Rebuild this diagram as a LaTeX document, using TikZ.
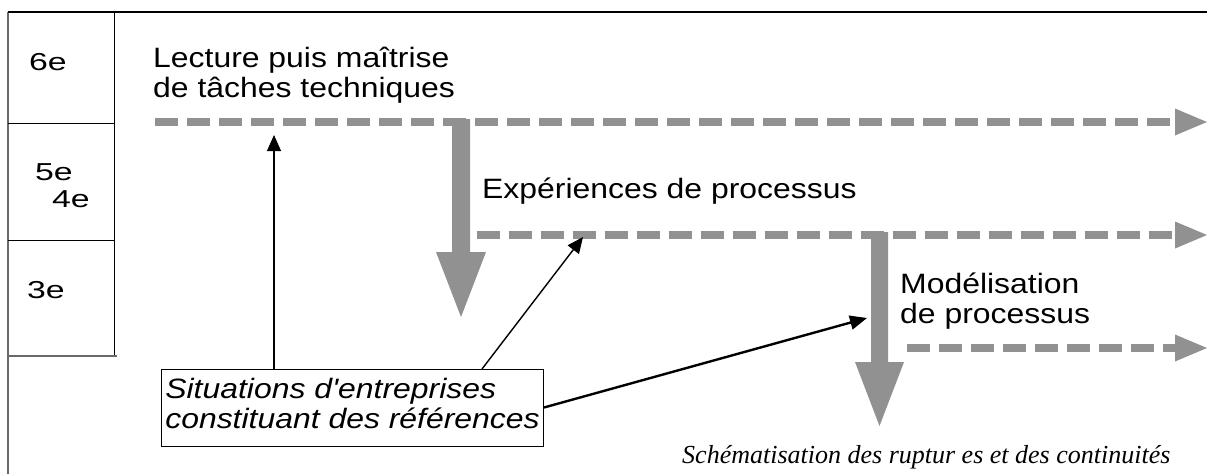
\documentclass[tikz,border=0pt]{standalone}
\usepackage{fontspec}
\setmainfont{Liberation Sans}[Ligatures=TeXOff]
\newfontfamily\serifcap{Liberation Serif}
\usetikzlibrary{arrows.meta}
\definecolor{flowgray}{RGB}{145,145,145}
\definecolor{framegray}{RGB}{105,105,105}
\newcommand\wtxt[1]{\scalebox{1.14}[1]{\begin{tabular}[t]{@{}l@{}}#1\end{tabular}}}
\newcommand\ltxt[1]{\scalebox{1.38}[1]{#1}}
\tikzset{
  maintext/.style={anchor=base west, inner sep=0pt, font=\fontsize{28}{30}\selectfont},
  lbl/.style={anchor=base west, inner sep=0pt, font=\fontsize{24.5}{28}\selectfont},
  flow/.style={fill=flowgray, draw=none},
  dashflow/.style={draw=flowgray, line width=8pt, dash pattern=on 23pt off 9pt},
  thinarrow/.style={draw=black, line width=1.1pt, -{Triangle[length=16pt,width=14pt]}},
  boldarrow/.style={draw=black, line width=2.4pt, -{Triangle[length=17pt,width=14pt]}},
  sitbox/.style={draw=black, line width=1pt, inner sep=0pt, minimum width=382pt, minimum height=77pt,
    font=\fontsize{28}{30}\selectfont\itshape},
}
\begin{document}
\begin{tikzpicture}[x=1pt,y=-1pt]
\useasboundingbox (0,0) rectangle (1207,474);
% frame
\draw[framegray, line width=2pt] (8,474) -- (8,12);
\draw[black, line width=1.3pt] (8,12) -- (1207,12);
% level column
\draw[black, line width=1pt] (114,12) -- (114,356);
\draw[black, line width=1pt] (8,123) -- (114,123);
\draw[black, line width=1pt] (8,240) -- (114,240);
\draw[framegray, line width=1.3pt] (8,356) -- (117,356);
\node[lbl] (l6) at (29,70) {\ltxt{6e}};
\node[lbl] (l5) at (35,180) {\ltxt{5e}};
\node[lbl] (l4) at (52,207) {\ltxt{4e}};
\node[lbl] (l3) at (27,298) {\ltxt{3e}};
% texts
\node[maintext] (lect) at (153,67) {\wtxt{Lecture puis maîtrise\\de tâches techniques}};
\node[maintext] (exp) at (482,198) {\wtxt{Expériences de processus}};
\node[maintext] (mod) at (900,293) {\wtxt{Modélisation\\de processus}};
\node[sitbox] (sit) at (352.5,407.5) {\wtxt{Situations d'entreprises\\constituant des références}};
\node[anchor=base west, inner sep=0pt, font=\serifcap\itshape\fontsize{26}{30}\selectfont] (cap) at (682,463)
  {Schématisation des ruptur es et des continuités};
% dashed continuity lines
\coordinate (d1s) at (155,122); \coordinate (d1e) at (1175,122);
\coordinate (d2s) at (477,235); \coordinate (d2e) at (1175,235);
\coordinate (d3s) at (907,348); \coordinate (d3e) at (1175,348);
\draw[dashflow] (d1s) -- (d1e);
\draw[dashflow] (d2s) -- (d2e);
\draw[dashflow] (d3s) -- (d3e);
\fill[flow] (1175,108.5) -- (1207,122) -- (1175,135.5) -- cycle;
\fill[flow] (1175,221.5) -- (1207,235) -- (1175,248.5) -- cycle;
\fill[flow] (1175,334.5) -- (1207,348) -- (1175,361.5) -- cycle;
% rupture arrows
\fill[flow] (452,119) -- (470,119) -- (470,252) -- (486,252) -- (461,317) -- (436,252) -- (452,252) -- cycle;
\fill[flow] (871,232) -- (888,232) -- (888,362) -- (904,362) -- (879.5,426) -- (855,362) -- (871,362) -- cycle;
% reference arrows
\coordinate (t1) at (274,135);
\coordinate (t2) at (583,237);
\coordinate (t3) at (867,318);
\coordinate (s2) at (482,369);
\draw[thinarrow] (sit.north -| t1) -- (t1);
\draw[thinarrow, line width=1.4pt] (s2) -- (t2);
\draw[boldarrow] (sit.east) -- (t3);
\end{tikzpicture}
\end{document}
